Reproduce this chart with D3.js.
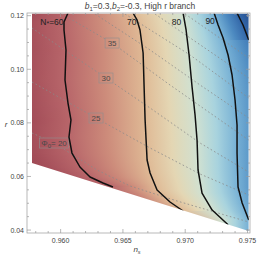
<!DOCTYPE html>
<html>
<head>
<meta charset="utf-8">
<script src="https://cdn.jsdelivr.net/npm/d3@7"></script>
<style>
  body { margin: 0; background: #fff; }
  svg { display: block; font-family: "Liberation Sans", Arial, sans-serif; }
</style>
</head>
<body>
<div id="chart"></div>
<script>
// axis ticks
const nsTicks = [0.960, 0.965, 0.970, 0.975];
const rTicks = [0.04, 0.06, 0.08, 0.10, 0.12];

// allowed region (n_s, r)
const regionNs = [0.9577, 0.9751, 0.9751, 0.9577];
const regionR = [0.1207, 0.1207, 0.0396, 0.0650];

// N_* contours as [n_s, r]
const nLevels = [60, 70, 80, 90, 100];
const contourN60 = [[0.96059,0.1210],[0.96027,0.11764],[0.96027,0.11466],[0.96043,0.10719],[0.96035,0.0960],
  [0.96059,0.08741],[0.96083,0.08107],[0.96067,0.07472],[0.96091,0.06875],[0.96155,0.06353],
  [0.96236,0.0598],[0.96340,0.05756],[0.96420,0.05606]];
const contourN70 = [[0.96581,0.1210],[0.96613,0.11839],[0.96637,0.11466],[0.96662,0.10607],[0.96670,0.09338],
  [0.96678,0.08107],[0.96686,0.07360],[0.96694,0.06614],[0.96718,0.06129],[0.96774,0.05494],
  [0.96878,0.05047],[0.96983,0.04711]];
const contourN80 = [[0.96983,0.1210],[0.97007,0.11466],[0.97031,0.10533],[0.97055,0.09338],[0.97079,0.08293],
  [0.97095,0.07360],[0.97103,0.06241],[0.97135,0.05382],[0.97216,0.04748],[0.97344,0.0420]];
const contourN90 = [[0.97232,0.1210],[0.97264,0.11652],[0.97304,0.11167],[0.97344,0.10533],[0.97376,0.09786],
  [0.97400,0.08853],[0.97416,0.0792],[0.97416,0.06875],[0.97424,0.05606],[0.97457,0.05009],[0.9751,0.04375]];
const contourN100 = [[0.97416,0.1210],[0.97464,0.11652],[0.9751,0.11092]];
const nContours = [contourN60, contourN70, contourN80, contourN90, contourN100];
const nLabels = ["N*=60", "70", "80", "90", ""];
const nLabelNs = [0.95930, 0.96570, 0.96930, 0.97200, null];
const nLabelR = [0.1177, 0.1177, 0.1177, 0.1180, null];

// Phi_0 contours (dashed)
const phiLevels = [20, 25, 30, 35, 40, 45, 50, 55];
const contourPhi20 = [[0.9577,0.07622],[0.95947,0.07248],[0.96292,0.06241],[0.96557,0.05644],[0.96935,0.05084],[0.9751,0.0430]];
const contourPhi25 = [[0.9577,0.09525],[0.96284,0.08181],[0.96718,0.07062],[0.97119,0.06092],[0.9751,0.05308]];
const contourPhi30 = [[0.9577,0.1154],[0.96364,0.09674],[0.96718,0.08555],[0.97119,0.07248],[0.9751,0.06166]];
const contourPhi35 = [[0.96011,0.12063],[0.96413,0.1098],[0.96878,0.09413],[0.9751,0.0736]];
const contourPhi40 = [[0.96276,0.12063],[0.96718,0.10719],[0.97119,0.09413],[0.9751,0.08181]];
const contourPhi45 = [[0.96517,0.12063],[0.97039,0.10533],[0.9751,0.08928]];
const contourPhi50 = [[0.96758,0.12063],[0.9751,0.09674]];
const contourPhi55 = [[0.96999,0.12063],[0.9751,0.10421]];
const phiContours = [contourPhi20, contourPhi25, contourPhi30, contourPhi35,
  contourPhi40, contourPhi45, contourPhi50, contourPhi55];
const phiLabelNs = [0.95947, 0.96284, 0.96364, 0.96413, null, null, null, null];

const W = 257, H = 257;
const x = d3.scaleLinear().domain([0.9573, 0.9752]).range([27, 250]);
const y = d3.scaleLinear().domain([0.0389, 0.1210]).range([233, 13]);

const color = d3.scaleLinear()
  .domain([50, 55, 60, 65, 70, 75, 80, 85, 90, 95, 100, 106])
  .range(["#963f4d", "#a44e59", "#b8666a", "#cd8c7b", "#dfb995", "#e4d6b3",
          "#d0e1d1", "#a8d3de", "#76b0d5", "#4c89c0", "#3366a8", "#234c8e"])
  .clamp(true);

const svg = d3.select("#chart").append("svg")
  .attr("width", W).attr("height", H);
const defs = svg.append("defs");

const regionPts = regionNs.map((d, i) => [x(d), y(regionR[i])]);
defs.append("clipPath").attr("id", "region")
  .append("path").attr("d", "M" + regionPts.join("L") + "Z");

// shading: colour follows N_* across each pixel row, stops at contour crossings
const px = nContours.map(c => c.map(d => [x(d[0]), y(d[1])]));
function crossAt(pts, yc) {
  for (let i = 0; i < pts.length - 1; i++) {
    const [x1, y1] = pts[i], [x2, y2] = pts[i + 1];
    if ((y1 - yc) * (y2 - yc) <= 0 && y1 !== y2) return x1 + (yc - y1) / (y2 - y1) * (x2 - x1);
  }
  return null;
}
const xl = x(regionNs[0]), xr = x(regionNs[1]);
const shade = svg.append("g").attr("clip-path", "url(#region)");
let prev = null;
for (let py = Math.floor(y(regionR[0])); py < Math.ceil(y(d3.min(regionR))); py++) {
  const yc = py + 0.5;
  let st = [];
  px.forEach((pts, i) => {
    const cx = crossAt(pts, yc);
    if (cx !== null) st.push([cx, nLevels[i]]);
  });
  st.sort((a, b) => a[0] - b[0]);
  if (st.length >= 2) {
    const [a0, a1] = [st[0], st[1]];
    const [b0, b1] = [st[st.length - 2], st[st.length - 1]];
    const nl = a0[1] - (a1[1] - a0[1]) * (a0[0] - xl) / Math.max(a1[0] - a0[0], 1);
    const nr = b1[1] + (b1[1] - b0[1]) * (xr - b1[0]) / Math.max(b1[0] - b0[0], 1);
    st = [[xl, nl], ...st.filter(s => s[0] > xl && s[0] < xr), [xr, nr]];
    prev = st;
  } else st = prev;
  const gid = "g" + py;
  const g = defs.append("linearGradient").attr("id", gid)
    .attr("gradientUnits", "userSpaceOnUse")
    .attr("x1", xl).attr("x2", xr).attr("y1", 0).attr("y2", 0);
  for (let k = 0; k < st.length - 1; k++) {
    const [xa, na] = st[k], [xb, nb] = st[k + 1];
    for (let s = 0; s < 6; s++) {
      const t = s / 6;
      g.append("stop").attr("offset", ((xa + t * (xb - xa)) - xl) / (xr - xl))
        .attr("stop-color", color(na + t * (nb - na)));
    }
  }
  const last = st[st.length - 1];
  g.append("stop").attr("offset", 1).attr("stop-color", color(last[1]));
  shade.append("rect").attr("x", xl).attr("y", py).attr("width", xr - xl).attr("height", 1.05)
    .attr("fill", `url(#${gid})`);
}

// Phi_0 label boxes cut the dashed lines
const line = d3.line().x(d => x(d[0])).y(d => y(d[1]));
function rOnLine(c, ns) {
  for (let i = 0; i < c.length - 1; i++) {
    if ((c[i][0] - ns) * (c[i + 1][0] - ns) <= 0)
      return c[i][1] + (ns - c[i][0]) / (c[i + 1][0] - c[i][0]) * (c[i + 1][1] - c[i][1]);
  }
  return c[0][1];
}
const phiBoxes = [];
phiContours.forEach((c, i) => {
  if (phiLabelNs[i] === null) return;
  const cx = x(phiLabelNs[i]), cy = y(rOnLine(c, phiLabelNs[i]));
  const w = i === 0 ? 29 : 14;
  phiBoxes.push({ cx, cy, w, h: 10, level: phiLevels[i], first: i === 0 });
});
const mask = defs.append("mask").attr("id", "boxmask");
mask.append("rect").attr("width", W).attr("height", H).attr("fill", "white");
phiBoxes.forEach(b => mask.append("rect").attr("x", b.cx - b.w / 2).attr("y", b.cy - b.h / 2)
  .attr("width", b.w).attr("height", b.h).attr("fill", "black"));

const dashG = svg.append("g").attr("clip-path", "url(#region)").append("g").attr("mask", "url(#boxmask)");
dashG.selectAll("path").data(phiContours).join("path")
  .attr("d", line).attr("fill", "none")
  .attr("stroke", "#8a8a8a").attr("stroke-width", 0.8).attr("stroke-dasharray", "1.6,2.4");

const boxG = svg.append("g");
phiBoxes.forEach(b => {
  boxG.append("rect").attr("x", b.cx - b.w / 2).attr("y", b.cy - b.h / 2)
    .attr("width", b.w).attr("height", b.h).attr("fill", "none")
    .attr("stroke", "#8f8f8f").attr("stroke-width", 0.6);
  const t = boxG.append("text").attr("x", b.cx).attr("y", b.cy + 3)
    .attr("text-anchor", "middle").attr("font-size", 8).attr("fill", "#4a4a4a");
  if (b.first) {
    t.append("tspan").text("\u03A6");
    t.append("tspan").attr("font-size", 6).attr("dy", 1.5).text("0");
    t.append("tspan").attr("dy", -1.5).text("= " + b.level);
  } else t.text(b.level);
});

// N_* contours
svg.append("g").attr("clip-path", "url(#region)")
  .selectAll("path").data(nContours).join("path")
  .attr("d", line).attr("fill", "none")
  .attr("stroke", "#111").attr("stroke-width", 1.5).attr("stroke-linejoin", "round");

const nl = svg.append("g").attr("font-size", 8.5).attr("fill", "#222").attr("text-anchor", "middle");
nLabels.forEach((s, i) => {
  if (!s) return;
  const t = nl.append("text").attr("x", x(nLabelNs[i])).attr("y", y(nLabelR[i]) + 3);
  if (i === 0) {
    t.append("tspan").text("N");
    t.append("tspan").attr("font-size", 7).attr("dy", 1.5).text("*");
    t.append("tspan").attr("dy", -1.5).text("=60");
  } else t.text(s);
});

// frame, ticks
const fx0 = 27, fx1 = 250, fy0 = 13, fy1 = 233;
const frame = svg.append("g").attr("stroke", "#9a9a9a").attr("stroke-width", 0.7).attr("fill", "none");
frame.append("rect").attr("x", fx0).attr("y", fy0).attr("width", fx1 - fx0).attr("height", fy1 - fy0);
const nsMinor = d3.range(0.958, 0.9755, 0.001);
const rMinor = d3.range(0.040, 0.1205, 0.005);
nsMinor.forEach(v => {
  const major = nsTicks.some(t => Math.abs(t - v) < 1e-6);
  const L = major ? 4 : 2;
  frame.append("line").attr("x1", x(v)).attr("x2", x(v)).attr("y1", fy1).attr("y2", fy1 - L);
  frame.append("line").attr("x1", x(v)).attr("x2", x(v)).attr("y1", fy0).attr("y2", fy0 + L);
});
rMinor.forEach(v => {
  const major = rTicks.some(t => Math.abs(t - v) < 1e-6);
  const L = major ? 4 : 2;
  frame.append("line").attr("y1", y(v)).attr("y2", y(v)).attr("x1", fx0).attr("x2", fx0 + L);
  frame.append("line").attr("y1", y(v)).attr("y2", y(v)).attr("x1", fx1).attr("x2", fx1 - L);
});
const lab = svg.append("g").attr("font-size", 7).attr("fill", "#444");
nsTicks.forEach(v => lab.append("text").attr("x", x(v)).attr("y", fy1 + 10)
  .attr("text-anchor", "middle").text(d3.format(".3f")(v)));
rTicks.forEach(v => lab.append("text").attr("x", fx0 - 3).attr("y", y(v) + 2.5)
  .attr("text-anchor", "end").text(d3.format(".2f")(v)));

// axis titles
svg.append("text").attr("x", 137).attr("y", 252).attr("font-size", 8).attr("fill", "#444")
  .attr("text-anchor", "middle").attr("font-style", "italic")
  .call(t => { t.append("tspan").text("n"); t.append("tspan").attr("font-size", 5.5).attr("dy", 1.5).text("s"); });
svg.append("text").attr("x", 6).attr("y", 127).attr("font-size", 8).attr("fill", "#444")
  .attr("text-anchor", "middle").attr("font-style", "italic").text("r");

// title
const title = svg.append("text").attr("x", 140).attr("y", 9).attr("font-size", 8.5)
  .attr("fill", "#444").attr("text-anchor", "middle");
title.append("tspan").attr("font-style", "italic").text("b");
title.append("tspan").attr("font-size", 6).attr("dy", 1.5).text("1");
title.append("tspan").attr("dy", -1.5).text("=0.3,");
title.append("tspan").attr("font-style", "italic").text("b");
title.append("tspan").attr("font-size", 6).attr("dy", 1.5).text("2");
title.append("tspan").attr("dy", -1.5).text("=-0.3, High  r branch");
</script>
</body>
</html>
